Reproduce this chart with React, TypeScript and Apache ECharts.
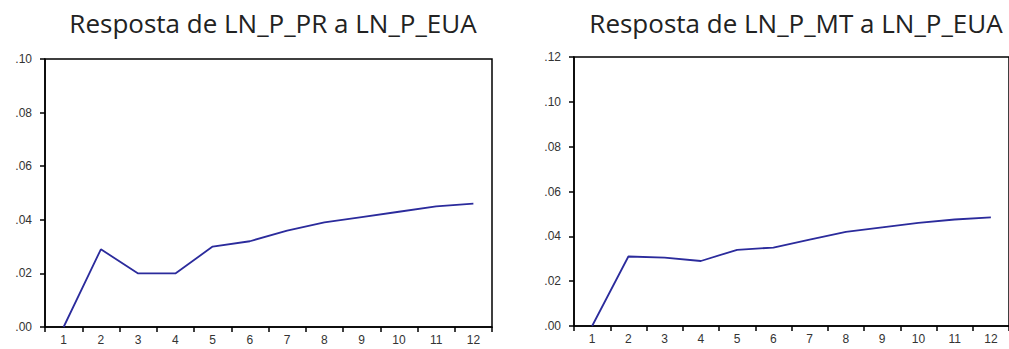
import React, { useEffect, useRef } from "react";
import * as echarts from "echarts";

const periods = ["1", "2", "3", "4", "5", "6", "7", "8", "9", "10", "11", "12"];
const respPR = [0.0, 0.029, 0.020, 0.020, 0.030, 0.032, 0.036, 0.039, 0.041, 0.043, 0.045, 0.046];
const respMT = [0.0, 0.031, 0.0305, 0.029, 0.034, 0.035, 0.0385, 0.042, 0.044, 0.046, 0.0475, 0.0485];
const titles = ["Resposta de LN_P_PR a LN_P_EUA", "Resposta de LN_P_MT a LN_P_EUA"];

const fmt = (v: number) => v.toFixed(2).replace(/^0\./, ".");

export default function App() {
  const ref = useRef<HTMLDivElement>(null);
  useEffect(() => {
    document.body.style.margin = "0";
    const chart = echarts.init(ref.current!, null, { renderer: "svg" });
    const axisLabel = { color: "#333", fontFamily: "Liberation Sans", fontSize: 12 };
    const xAxisBase = {
      type: "category" as const,
      data: periods,
      boundaryGap: true,
      axisLine: { lineStyle: { color: "#000", width: 1.5 } },
      axisTick: { show: true, length: 5, lineStyle: { color: "#000", width: 1.5 } },
      axisLabel: { ...axisLabel, margin: 7 },
      splitLine: { show: false },
    };
    const yAxisBase = {
      type: "value" as const,
      min: 0,
      interval: 0.02,
      axisLine: { show: true, lineStyle: { color: "#000", width: 1.5 } },
      axisTick: { show: true, length: 5, lineStyle: { color: "#000", width: 1.5 } },
      axisLabel: { ...axisLabel, margin: 13, formatter: fmt },
      splitLine: { show: false },
    };
    const titleStyle = { fontFamily: "Open Sans", fontWeight: "normal" as const, fontSize: 26, color: "#222" };
    chart.setOption({
      animation: false,
      backgroundColor: "#fff",
      title: [
        { text: titles[0], left: 268, top: 5, textAlign: "center", textStyle: titleStyle },
        { text: titles[1], left: 791, top: 5, textAlign: "center", textStyle: titleStyle },
      ],
      grid: [
        { left: 45, top: 59, width: 447, height: 268, show: true, borderColor: "#000", borderWidth: 1.5 },
        { left: 574, top: 57, width: 439, height: 269, show: true, borderColor: "#000", borderWidth: 1.5 },
      ],
      xAxis: [
        { ...xAxisBase, gridIndex: 0 },
        { ...xAxisBase, gridIndex: 1 },
      ],
      yAxis: [
        { ...yAxisBase, gridIndex: 0, max: 0.1 },
        { ...yAxisBase, gridIndex: 1, max: 0.12 },
      ],
      series: [
        {
          type: "line",
          xAxisIndex: 0,
          yAxisIndex: 0,
          data: respPR,
          showSymbol: false,
          lineStyle: { color: "#2b2b9c", width: 1.8 },
        },
        {
          type: "line",
          xAxisIndex: 1,
          yAxisIndex: 1,
          data: respMT,
          showSymbol: false,
          lineStyle: { color: "#2b2b9c", width: 1.8 },
        },
      ],
    });
    return () => chart.dispose();
  }, []);
  return <div ref={ref} style={{ width: 1009, height: 349 }} />;
}
